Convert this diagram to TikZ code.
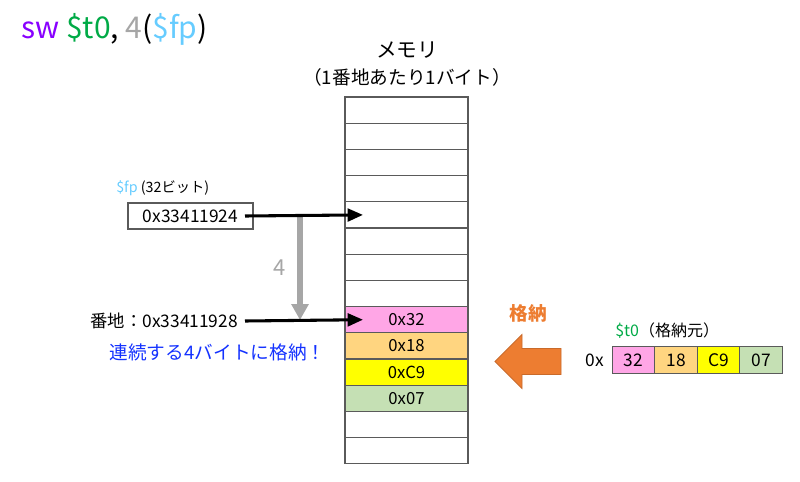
\documentclass[tikz,border=0pt]{standalone}
\usepackage{fontspec}
\setmainfont{Noto Sans CJK JP}
\usepackage{tikz}
\usetikzlibrary{positioning,arrows.meta}
\definecolor{swpurple}{RGB}{136,0,255}
\definecolor{tzgreen}{RGB}{0,170,70}
\definecolor{ofsgray}{RGB}{166,166,166}
\definecolor{fpblue}{RGB}{102,204,255}
\definecolor{bytepk}{RGB}{255,166,230}
\definecolor{byteor}{RGB}{255,213,128}
\definecolor{byteyl}{RGB}{255,255,0}
\definecolor{bytegn}{RGB}{197,224,180}
\definecolor{storeor}{RGB}{237,125,49}
\definecolor{noteblue}{RGB}{20,50,255}
\definecolor{celline}{RGB}{90,90,90}

\begin{document}
\begin{tikzpicture}[
  x=0.75pt, y=-0.75pt,
  node distance=0pt,
  cell/.style={
    rectangle, draw=celline, line width=0.8pt, outer sep=0pt,
    minimum width=92.25pt, minimum height=19.65pt,
    inner sep=0pt, font=\fontsize{12.5}{14}\selectfont
  },
  regbyte/.style={
    rectangle, draw=celline, line width=0.8pt, outer sep=0pt,
    minimum width=31.9pt, minimum height=20.25pt,
    inner sep=0pt, font=\fontsize{13}{15}\selectfont
  },
  lbl/.style={inner sep=0pt, font=\fontsize{13}{15}\selectfont},
  arr/.style={-{Triangle[length=11.5pt,width=9.5pt]},line width=2.3pt,color=black},
  ofsarr/.style={-{Triangle[length=12pt,width=12.5pt]},line width=4.5pt,color=ofsgray}
]
\useasboundingbox (0,0) rectangle (800,482);

\node[anchor=base west,inner sep=0pt,font=\fontsize{22.5}{25}\selectfont] (instr) at (21,38)
  {\color{swpurple}sw \color{tzgreen}\$t0\color{black}, \color{ofsgray}4\color{black}(\color{fpblue}\$fp\color{black})};

\node[font=\fontsize{15.5}{18}\selectfont] (memtitle) at (407,50) {メモリ};
\node[font=\fontsize{14}{16}\selectfont] (memnote) at (407,77) {（1番地あたり1バイト）};

\foreach \i in {1,...,14}
  \node[cell] (m\i) at (406.5,{110.1+(\i-1)*26.2}) {};
\node[cell,fill=bytepk] (b0) at (m9) {0x32};
\node[cell,fill=byteor] (b1) at (m10) {0x18};
\node[cell,fill=byteyl] (b2) at (m11) {0xC9};
\node[cell,fill=bytegn] (b3) at (m12) {0x07};

\node[anchor=west,inner sep=0pt,font=\fontsize{10.7}{12}\selectfont] (fplbl) at (116,188)
  {\color{fpblue}\$fp \color{black}(32ビット)};
\node[cell,minimum width=93.75pt,minimum height=19.5pt,font=\fontsize{13}{15}\selectfont] (fpreg) at (190.5,216) {0x33411924};

\node[lbl,anchor=east] (addr) at (238,321) {番地：0x33411928};
\node[font=\fontsize{14}{16}\selectfont,text=noteblue] (note) at (217.5,352) {連続する4バイトに格納！};
\node[font=\fontsize{16.5}{18}\selectfont,text=ofsgray] (ofs) at (280,268) {4};

\coordinate (ofstop) at (300,217);
\coordinate (ofsbot) at (300,320);
\draw[ofsarr] (ofstop) -- (ofsbot);

\draw[arr] ([xshift=-6pt]fpreg.east) -- ([xshift=13.5pt]m5.west);
\draw[arr] ([xshift=5.25pt]addr.east) -- ([xshift=13.5pt]m9.west);

\node[font=\fontsize{14}{16}\selectfont\bfseries,text=storeor] (storelbl) at (528,313) {格納};
\draw[fill=storeor,draw=storeor!85!black,line width=0.6pt]
  (495,361.5) -- (522,334.5) -- (522,348.5) -- (561,348.5) -- (561,374.5)
  -- (522,374.5) -- (522,388.5) -- cycle;

\node[anchor=west,inner sep=0pt,font=\fontsize{12}{14}\selectfont] (srclbl) at (615,331)
  {\color{tzgreen}\$t0\color{black}（格納元）};
\node[regbyte,fill=bytepk] (r0) at (633.5,360) {32};
\node[regbyte,fill=byteor,right=of r0] (r1) {18};
\node[regbyte,fill=byteyl,right=of r1] (r2) {C9};
\node[regbyte,fill=bytegn,right=of r2] (r3) {07};
\node[lbl,left=6pt of r0] (hexpfx) {0x};
\end{tikzpicture}
\end{document}
